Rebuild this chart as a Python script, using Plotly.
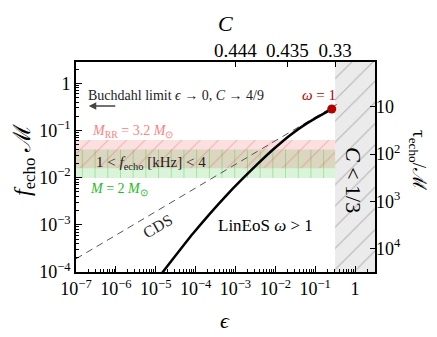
import plotly.graph_objects as go

# ---------------- data ----------------
eps_tickvals = [1e-7, 1e-6, 1e-5, 1e-4, 1e-3, 1e-2, 1e-1, 1]
eps_ticktext = ["10<sup>−7</sup>", "10<sup>−6</sup>", "10<sup>−5</sup>", "10<sup>−4</sup>",
                "10<sup>−3</sup>", "10<sup>−2</sup>", "10<sup>−1</sup>", "1"]
f_tickvals = [1e-4, 1e-3, 1e-2, 1e-1, 1]
f_ticktext = ["10<sup>−4</sup>", "10<sup>−3</sup>", "10<sup>−2</sup>", "10<sup>−1</sup>", "1"]
tau_tickvals = [10, 100, 1000, 10000]
tau_ticktext = ["10", "10<sup>2</sup>", "10<sup>3</sup>", "10<sup>4</sup>"]
C_tick_eps = [1e-3, 2e-2, 0.316]
C_ticktext = ["0.444", "0.435", "0.33"]

# LinEoS curve (log10 eps, log10 f M)
lin_log_eps = [-4.95, -4.85, -4.06, -3.22, -2.43, -2.05, -1.63, -1.21, -0.585]
lin_log_f = [-4.13, -4.03, -3.18, -2.37, -1.70, -1.40, -1.10, -0.85, -0.547]
# CDS dashed line
cds_log_eps = [-7.0, -0.46]
cds_log_f = [-3.72, -0.45]
# omega = 1 point
omega1_log_eps = -0.585
omega1_log_f = -0.547
# bands: f M for 1 < f[kHz] < 4
band_M32 = [0.01576, 0.0630]
band_M2 = [0.00985, 0.0394]
# C < 1/3 region start (eps)
C13_eps = 0.316

x_range = [-7, 0.5]
y_range = [-4, 0.45]

FONT = "Liberation Serif"
OFF = 8  # page body margin of the browser

fig = go.Figure()

# gray C<1/3 region
fig.add_trace(go.Scatter(
    x=[C13_eps, 10 ** 0.6, 10 ** 0.6, C13_eps, C13_eps],
    y=[1e-5, 1e-5, 10, 10, 1e-5],
    mode="lines", line=dict(width=0), fill="toself",
    fillcolor="#ebebeb",
    fillpattern=dict(shape="/", bgcolor="#ebebeb", fgcolor="#b5b5b5",
                     size=15, solidity=0.07, fillmode="replace"),
    hoverinfo="skip", showlegend=False))

# green band (M = 2 Msun)
fig.add_trace(go.Scatter(
    x=[1e-7, C13_eps, C13_eps, 1e-7, 1e-7],
    y=[band_M2[0], band_M2[0], band_M2[1], band_M2[1], band_M2[0]],
    mode="lines", line=dict(width=0), fill="toself",
    fillcolor="rgba(0,180,0,0.15)",
    fillpattern=dict(shape="|", bgcolor="rgba(0,180,0,0.15)", fgcolor="rgba(60,190,60,0.35)",
                     size=12.7, solidity=0.08, fillmode="replace"),
    hoverinfo="skip", showlegend=False))

# red band (M_RR = 3.2 Msun)
fig.add_trace(go.Scatter(
    x=[1e-7, C13_eps, C13_eps, 1e-7, 1e-7],
    y=[band_M32[0], band_M32[0], band_M32[1], band_M32[1], band_M32[0]],
    mode="lines", line=dict(width=0), fill="toself",
    fillcolor="rgba(230,0,0,0.12)",
    fillpattern=dict(shape="/", bgcolor="rgba(230,0,0,0.12)", fgcolor="rgba(210,90,90,0.35)",
                     size=13, solidity=0.08, fillmode="replace"),
    hoverinfo="skip", showlegend=False))

# CDS dashed
fig.add_trace(go.Scatter(
    x=[10 ** v for v in cds_log_eps], y=[10 ** v for v in cds_log_f],
    mode="lines", line=dict(color="#555555", width=1, dash="7px,5px"),
    hoverinfo="skip", showlegend=False))

# LinEoS
fig.add_trace(go.Scatter(
    x=[10 ** v for v in lin_log_eps], y=[10 ** v for v in lin_log_f],
    mode="lines", line=dict(color="black", width=2.5, shape="spline", smoothing=0.8),
    hoverinfo="skip", showlegend=False))

# omega = 1 point
fig.add_trace(go.Scatter(
    x=[10 ** omega1_log_eps], y=[10 ** omega1_log_f],
    mode="markers", marker=dict(color="#b40000", size=9),
    hoverinfo="skip", showlegend=False))

# invisible trace to activate secondary axes
fig.add_trace(go.Scatter(
    x=[1e-3], y=[100], xaxis="x2", yaxis="y2",
    mode="markers", marker=dict(opacity=0), hoverinfo="skip", showlegend=False))

tickfont = dict(family=FONT, size=18, color="black")

# plot area in window pixels
L, R, T, B = 76, 375, 62, 272
W, H = 437 - OFF, 337 - OFF

fig.update_layout(
    width=W, height=H,
    margin=dict(l=L - OFF, r=W + OFF - R, t=T - OFF, b=H + OFF - B, autoexpand=False),
    paper_bgcolor="white", plot_bgcolor="white",
    font=dict(family=FONT, color="black"),
    xaxis=dict(type="log", range=x_range, tickmode="array", tickvals=eps_tickvals,
               ticktext=eps_ticktext, ticks="inside", ticklen=6, tickwidth=1.2,
               tickcolor="black", showline=True, linecolor="black", linewidth=1.6,
               mirror=True, showgrid=False, zeroline=False, tickfont=tickfont,
               automargin=False,
               minor=dict(ticks="inside", ticklen=3, tickwidth=1, tickcolor="black",
                          tickvals=[k * 10 ** n for n in range(-7, 1) for k in range(2, 10)],
                          showgrid=False)),
    yaxis=dict(type="log", range=y_range, tickmode="array", tickvals=f_tickvals,
               ticktext=f_ticktext, ticks="inside", ticklen=6, tickwidth=1.2,
               tickcolor="black", showline=True, linecolor="black", linewidth=1.6,
               mirror=True, showgrid=False, zeroline=False, tickfont=tickfont,
               automargin=False,
               minor=dict(ticks="inside", ticklen=3, tickwidth=1, tickcolor="black",
                          tickvals=[k * 10 ** n for n in range(-5, 1) for k in range(2, 10)],
                          showgrid=False)),
    xaxis2=dict(type="log", range=x_range, overlaying="x", side="top", anchor="y",
                tickmode="array", tickvals=C_tick_eps, ticktext=C_ticktext,
                ticks="inside", ticklen=5, tickwidth=1.2, tickcolor="black",
                showline=False, showgrid=False, zeroline=False, automargin=False,
                tickfont=dict(family=FONT, size=19, color="black")),
    yaxis2=dict(type="log", range=[0.497 - y_range[0], 0.497 - y_range[1]],
                overlaying="y", side="right", anchor="x",
                tickmode="array", tickvals=tau_tickvals, ticktext=tau_ticktext,
                ticks="inside", ticklen=5, tickwidth=1.2, tickcolor="black",
                showline=False, showgrid=False, zeroline=False, automargin=False,
                tickfont=tickfont),
)

ann = []
def A(text, x, y, size=14, color="black", xanchor="center", angle=0, yanchor="middle"):
    ann.append(dict(text=text, x=x, y=y, xref="paper", yref="paper", showarrow=False,
                    font=dict(family=FONT, size=size, color=color), xanchor=xanchor,
                    yanchor=yanchor, textangle=angle))

def px(xp):
    return (xp - L) / (R - L)
def py(yp):
    return (B - yp) / (B - T)

A("Buchdahl limit <i>ϵ</i> → 0, <i>C</i> → 4/9", px(86), py(95), size=14, color="#222", xanchor="left")
A("<i>ω</i> = 1", px(319), py(95), size=15, color="#b40000")
A("<i>M</i><sub>RR</sub> = 3.2 <i>M</i><sub>⊙</sub>", px(90), py(131), size=14, color="#ff8080", xanchor="left")
A("1 < <i>f</i><sub>echo</sub> [kHz] < 4", px(94), py(163), size=15, color="#222", xanchor="left")
A("<i>M</i> = 2 <i>M</i><sub>⊙</sub>", px(88), py(189), size=14, color="#22bb22", xanchor="left")
A("CDS", px(157), py(226), size=16, color="#222", angle=-30)
A("LinEoS <i>ω</i> > 1", px(216), py(225), size=17, color="black", xanchor="left")
A("<i>C</i> < 1/3", px(354), py(180), size=22, color="black", angle=90)
A("<i>f</i><sub>echo</sub> ℳ", px(24), py(160), size=24, color="black", angle=-90)
A("<i>ϵ</i>", px(225), py(320), size=22, color="black")
A("<i>C</i>", px(225), py(9), size=22, color="black", yanchor="top")
A("τ<sub>echo</sub>/ℳ", px(418), py(160), size=19, color="black", angle=90)

ann.append(dict(x=-6.68, y=-0.483, xref="x", yref="y", ax=28, ay=0, axref="pixel", ayref="pixel",
                showarrow=True, arrowhead=2, arrowsize=1, arrowwidth=1.5, arrowcolor="#444", text=""))

fig.update_layout(annotations=ann)

fig.write_html("out.html")
